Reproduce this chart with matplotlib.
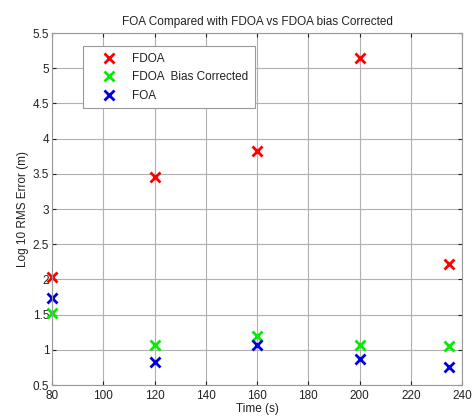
import matplotlib
matplotlib.use("Agg")
import matplotlib.pyplot as plt

plt.rcParams['font.family'] = ['Liberation Sans', 'DejaVu Sans']

time = [80, 120, 160, 200, 235]
fdoa = [2.03, 3.46, 3.83, 5.15, 2.22]
fdoa_bias = [1.52, 1.07, 1.20, 1.07, 1.06]
foa = [1.74, 0.83, 1.07, 0.87, 0.75]

xticks = [80, 100, 120, 140, 160, 180, 200, 220, 240]
yticks = [0.5, 1, 1.5, 2, 2.5, 3, 3.5, 4, 4.5, 5, 5.5]

fig = plt.figure(figsize=(4.73, 4.19), dpi=100)
ax = fig.add_axes([0.110, 0.081, 0.867, 0.840])

ax.plot(time, fdoa, 'x', color='#ff0000', ms=7, mew=2, label='FDOA', clip_on=False)
ax.plot(time, fdoa_bias, 'x', color='#00ee00', ms=7, mew=2, label='FDOA  Bias Corrected', clip_on=False)
ax.plot(time, foa, 'x', color='#0000dd', ms=7, mew=2, label='FOA', clip_on=False)

ax.set_xlim(80, 240)
ax.set_ylim(0.5, 5.5)
ax.set_xticks(xticks)
ax.set_yticks(yticks)
ax.set_yticklabels(['0.5', '1', '1.5', '2', '2.5', '3', '3.5', '4', '4.5', '5', '5.5'])
ax.grid(True, color='#b0b0b0', linewidth=0.8, linestyle='-')
ax.set_axisbelow(True)
ax.tick_params(direction='in', length=3, top=True, right=True, labelsize=8.5, colors='#222222', pad=2)
ax.tick_params(axis='x', pad=3.5)
for s in ax.spines.values():
    s.set_color('#999999')
    s.set_linewidth(0.8)

ax.set_title('FOA Compared with FDOA vs FDOA bias Corrected', fontsize=8.5, color='#222222', pad=6)
ax.set_xlabel('Time (s)', fontsize=8.5, color='#222222', labelpad=1)
ax.set_ylabel('Log 10 RMS Error (m)', fontsize=8.5, color='#222222', labelpad=3)

leg = ax.legend(loc='upper left', bbox_to_anchor=(0.076, 0.962), fontsize=8.5,
                frameon=True, fancybox=False, edgecolor='#999999', framealpha=1,
                handletextpad=0.4, borderpad=0.55, labelspacing=0.55, handlelength=3.2,
                borderaxespad=0)
leg.get_frame().set_linewidth(0.8)
for t in leg.get_texts():
    t.set_color('#222222')

fig.savefig('out.png', dpi=100)
